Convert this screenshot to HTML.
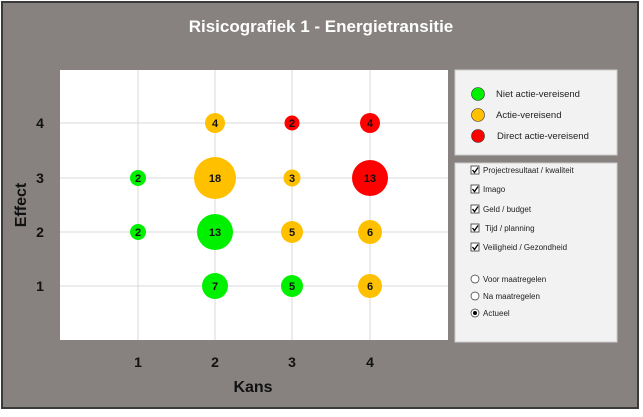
<!DOCTYPE html>
<html><head><meta charset="utf-8"><style>
body{margin:0;width:643px;height:412px;background:#fff;overflow:hidden;font-family:"Liberation Sans",sans-serif}
</style></head><body>
<svg width="643" height="412" xmlns="http://www.w3.org/2000/svg" font-family="Liberation Sans, sans-serif">
<rect x="0" y="0" width="643" height="412" fill="#fff"/>
<rect x="2" y="2" width="636" height="406" fill="#878180" stroke="#3a3a3a" stroke-width="2"/>
<text x="321" y="32" text-anchor="middle" fill="#fff" font-size="17" font-weight="bold">Risicografiek 1 - Energietransitie</text>
<rect x="60" y="70" width="388" height="270" fill="#fff"/>
<g stroke="#d9d9d9" stroke-width="1">
<line x1="138" y1="70" x2="138" y2="340"/><line x1="215" y1="70" x2="215" y2="340"/>
<line x1="292" y1="70" x2="292" y2="340"/><line x1="370" y1="70" x2="370" y2="340"/>
<line x1="60" y1="123" x2="448" y2="123"/><line x1="60" y1="178" x2="448" y2="178"/>
<line x1="60" y1="232" x2="448" y2="232"/><line x1="60" y1="286" x2="448" y2="286"/>
</g>
<g font-size="11" font-weight="bold" text-anchor="middle" fill="#111">
<circle cx="215" cy="123" r="10" fill="#ffc000"/><text x="215" y="127">4</text>
<circle cx="292" cy="123" r="7.5" fill="#f00"/><text x="292" y="127">2</text>
<circle cx="370" cy="123" r="10" fill="#f00"/><text x="370" y="127">4</text>
<circle cx="138" cy="178" r="8" fill="#00f000"/><text x="138" y="182">2</text>
<circle cx="215" cy="178" r="21" fill="#ffc000"/><text x="215" y="182">18</text>
<circle cx="292" cy="178" r="8.5" fill="#ffc000"/><text x="292" y="182">3</text>
<circle cx="370" cy="178" r="18" fill="#f00"/><text x="370" y="182">13</text>
<circle cx="138" cy="232" r="8" fill="#00f000"/><text x="138" y="236">2</text>
<circle cx="215" cy="232" r="18" fill="#00f000"/><text x="215" y="236">13</text>
<circle cx="292" cy="232" r="11" fill="#ffc000"/><text x="292" y="236">5</text>
<circle cx="370" cy="232" r="12" fill="#ffc000"/><text x="370" y="236">6</text>
<circle cx="215" cy="286" r="13" fill="#00f000"/><text x="215" y="290">7</text>
<circle cx="292" cy="286" r="11" fill="#00f000"/><text x="292" y="290">5</text>
<circle cx="370" cy="286" r="12" fill="#ffc000"/><text x="370" y="290">6</text>
</g>
<g font-size="14" font-weight="bold" fill="#111" text-anchor="middle">
<text x="40" y="128">4</text><text x="40" y="183">3</text><text x="40" y="237">2</text><text x="40" y="291">1</text>
<text x="138" y="367">1</text><text x="215" y="367">2</text><text x="292" y="367">3</text><text x="370" y="367">4</text>
<text x="253" y="392" font-size="16">Kans</text>
<text transform="translate(26,205) rotate(-90)" font-size="16">Effect</text>
</g>
<rect x="455" y="70" width="162" height="85" fill="#f2f2f2" stroke="#ccc"/>
<g font-size="9.5" fill="#222">
<circle cx="478" cy="94" r="6.5" fill="#00f000" stroke="#333" stroke-width="0.6"/><text x="496" y="97">Niet actie-vereisend</text>
<circle cx="478" cy="115" r="6.5" fill="#ffc000" stroke="#333" stroke-width="0.6"/><text x="496" y="118">Actie-vereisend</text>
<circle cx="478" cy="136" r="6.5" fill="#f00" stroke="#333" stroke-width="0.6"/><text x="497" y="139">Direct actie-vereisend</text>
</g>
<rect x="455" y="163" width="162" height="179" fill="#f2f2f2" stroke="#ccc"/>
<g font-size="8" fill="#222">
<g fill="#fff" stroke="#333" stroke-width="0.8">
<rect x="471" y="166" width="8" height="8"/><rect x="471" y="185" width="8" height="8"/><rect x="471" y="205" width="8" height="8"/><rect x="471" y="224" width="8" height="8"/><rect x="471" y="243" width="8" height="8"/>
</g>
<g fill="none" stroke="#000" stroke-width="1.3">
<path d="M472.5 170l2 2.5 3.5-5"/><path d="M472.5 189l2 2.5 3.5-5"/><path d="M472.5 209l2 2.5 3.5-5"/><path d="M472.5 228l2 2.5 3.5-5"/><path d="M472.5 247l2 2.5 3.5-5"/>
</g>
<text x="483" y="173">Projectresultaat / kwaliteit</text>
<text x="483" y="192">Imago</text>
<text x="483" y="212">Geld / budget</text>
<text x="485" y="231">Tijd / planning</text>
<text x="483" y="250">Veiligheid / Gezondheid</text>
<circle cx="475" cy="279" r="4" fill="#fff" stroke="#333" stroke-width="0.7"/><text x="483" y="282">Voor maatregelen</text>
<circle cx="475" cy="296" r="4" fill="#fff" stroke="#333" stroke-width="0.7"/><text x="483" y="299">Na maatregelen</text>
<circle cx="475" cy="313" r="4" fill="#fff" stroke="#333" stroke-width="0.7"/><circle cx="475" cy="313" r="2" fill="#000"/><text x="483" y="316">Actueel</text>
</g>
</svg>
</body></html>
